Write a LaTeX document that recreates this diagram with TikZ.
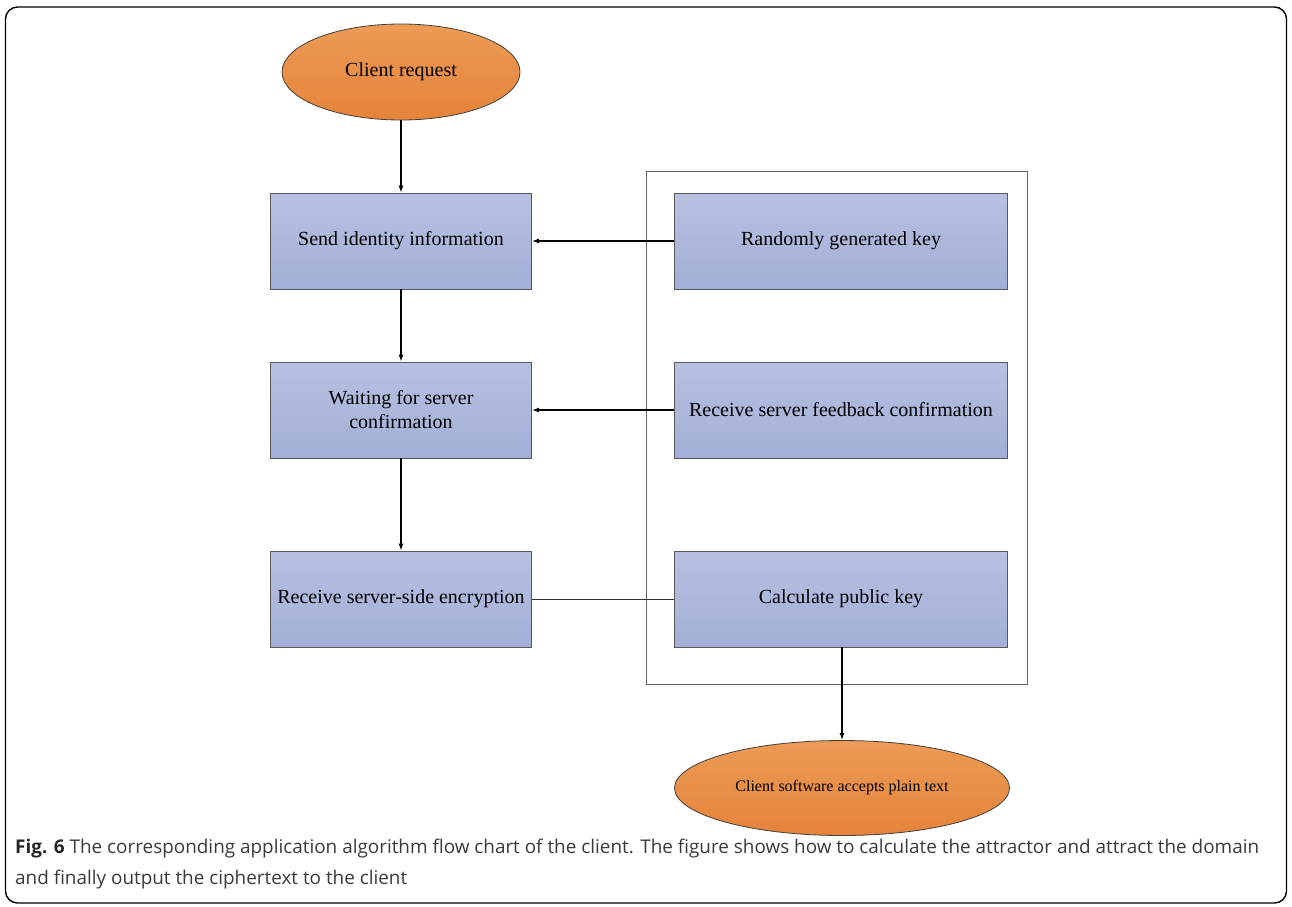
\documentclass[tikz,border=0pt]{standalone}
\usepackage{fontspec}
\setmainfont{Liberation Serif}
\newfontfamily\capfont{Open Sans}
\usetikzlibrary{arrows.meta,shapes.geometric}
\definecolor{boxtop}{HTML}{B8C1E2}
\definecolor{boxbot}{HTML}{A2AED5}
\definecolor{ovtop}{HTML}{EC9B56}
\definecolor{ovbot}{HTML}{E5833A}
\definecolor{captext}{HTML}{3A3A3A}
\tikzset{
  stepbox/.style={draw=black!65, line width=0.8pt, top color=boxtop, bottom color=boxbot,
    minimum width=261pt, minimum height=96pt, inner sep=2pt, align=center,
    font=\fontsize{20}{24}\selectfont},
  wideboxr/.style={stepbox, minimum width=333pt},
  terminal/.style={ellipse, draw=black!75, line width=0.8pt, top color=ovtop, bottom color=ovbot,
    inner sep=0pt, align=center},
  flow/.style={-{Latex[length=7pt,width=5pt]}, line width=1.5pt},
  plain/.style={line width=0.7pt, draw=black!80},
}
\begin{document}
\begin{tikzpicture}[x=1pt,y=-1pt]
  \useasboundingbox (0,0) rectangle (1292,906);
  % outer figure frame
  \draw[line width=1.4pt, rounded corners=12pt] (5.5,7) rectangle (1286.5,903);

  % group frame around the key steps
  \draw[line width=0.8pt, draw=black!60] (646,171) rectangle (1027,684);

  % terminals
  \node[terminal, minimum width=238pt, minimum height=96pt,
        font=\fontsize{20}{24}\selectfont] (start) at (401,72) {Client request};
  \node[terminal, minimum width=335pt, minimum height=95pt,
        font=\fontsize{16}{19}\selectfont] (finish) at (842,788) {Client software accepts plain text};

  % client-side steps
  \node[stepbox] (send) at (401,241) {Send identity information};
  \node[stepbox] (wait) at (401,410) {Waiting for server\\confirmation};
  \node[stepbox] (recv) at (401,599) {Receive server-side encryption};

  % key steps
  \node[wideboxr] (rand) at (841,241) {Randomly generated key};
  \node[wideboxr] (feed) at (841,410) {Receive server feedback confirmation};
  \node[wideboxr] (calc) at (841,599) {Calculate public key};

  % connectors
  \draw[flow] (start) -- (send);
  \draw[flow] (send) -- (wait);
  \draw[flow] (wait) -- (recv);
  \draw[flow] (rand) -- (send);
  \draw[flow] (feed) -- (wait);
  \draw[plain] (recv) -- (calc);
  \draw[flow] (calc.south -| finish.north) -- (finish.north);

  % caption
  \node[anchor=north west, inner sep=0pt, align=left, text=captext,
        font=\capfont\fontsize{18.9}{31}\selectfont] (cap) at (15,839)
    {\textbf{\color{black!85}Fig. 6} The corresponding application algorithm flow chart of the client. The figure shows how to calculate the attractor and attract the domain\\
     and finally output the ciphertext to the client};
\end{tikzpicture}
\end{document}
